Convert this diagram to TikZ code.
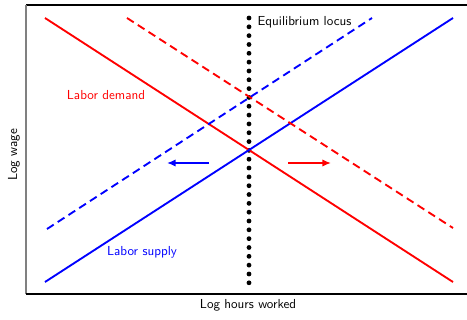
\documentclass[tikz,border=0pt]{standalone}
\usetikzlibrary{arrows.meta}
\begin{document}
\begin{tikzpicture}[x=0.75pt,y=-0.75pt,
  lab/.style={font=\sffamily\fontsize{9.8}{11}\selectfont},
  curve/.style={line width=1.4pt},
  dashcurve/.style={line width=1.4pt, dash pattern=on 6pt off 3.6pt},
  shift arrow/.style={line width=1.2pt, -{Latex[length=6.5pt,width=5.5pt]}}]
\useasboundingbox (0,0) rectangle (467,320);
% axes frame
\draw[line width=0.8pt, black] (26,5) -- (467,5);
\draw[line width=1.2pt, gray] (26,5) -- (26,294);
\draw[line width=0.8pt, black] (26,294) -- (467,294);
% coordinates
\coordinate (d1) at (45,18);  \coordinate (d2) at (453,282);
\coordinate (s1) at (45,282); \coordinate (s2) at (453,18);
\coordinate (dd1) at (127,18); \coordinate (dd2) at (453,228);
\coordinate (ss1) at (47,229); \coordinate (ss2) at (372,18);
\coordinate (e1) at (249,18); \coordinate (e2) at (249,283);
\coordinate (ba1) at (209,163); \coordinate (ba2) at (167,163);
\coordinate (ra1) at (288,163); \coordinate (ra2) at (331,163);
% equilibrium locus dots
\draw[line width=3.6pt, line cap=round, dash pattern=on 0pt off 6.62pt] (e1) -- (e2);
% curves
\draw[curve, red] (d1) -- (d2);
\draw[curve, blue] (s1) -- (s2);
\draw[dashcurve, red] (dd1) -- (dd2);
\draw[dashcurve, blue] (ss1) -- (ss2);
% arrows
\draw[shift arrow, blue] (ba1) -- (ba2);
\draw[shift arrow, red] (ra1) -- (ra2);
% labels
\node[lab, anchor=west, fill=white, inner sep=1pt] (eq) at (256,22) {Equilibrium locus};
\node[lab, red] (ld) at (106,95) {Labor demand};
\node[lab, blue] (ls) at (142,252) {Labor supply};
\node[lab, rotate=90] (yl) at (14,155) {Log wage};
\node[lab] (xl) at (248,305) {Log hours worked};
\end{tikzpicture}
\end{document}
